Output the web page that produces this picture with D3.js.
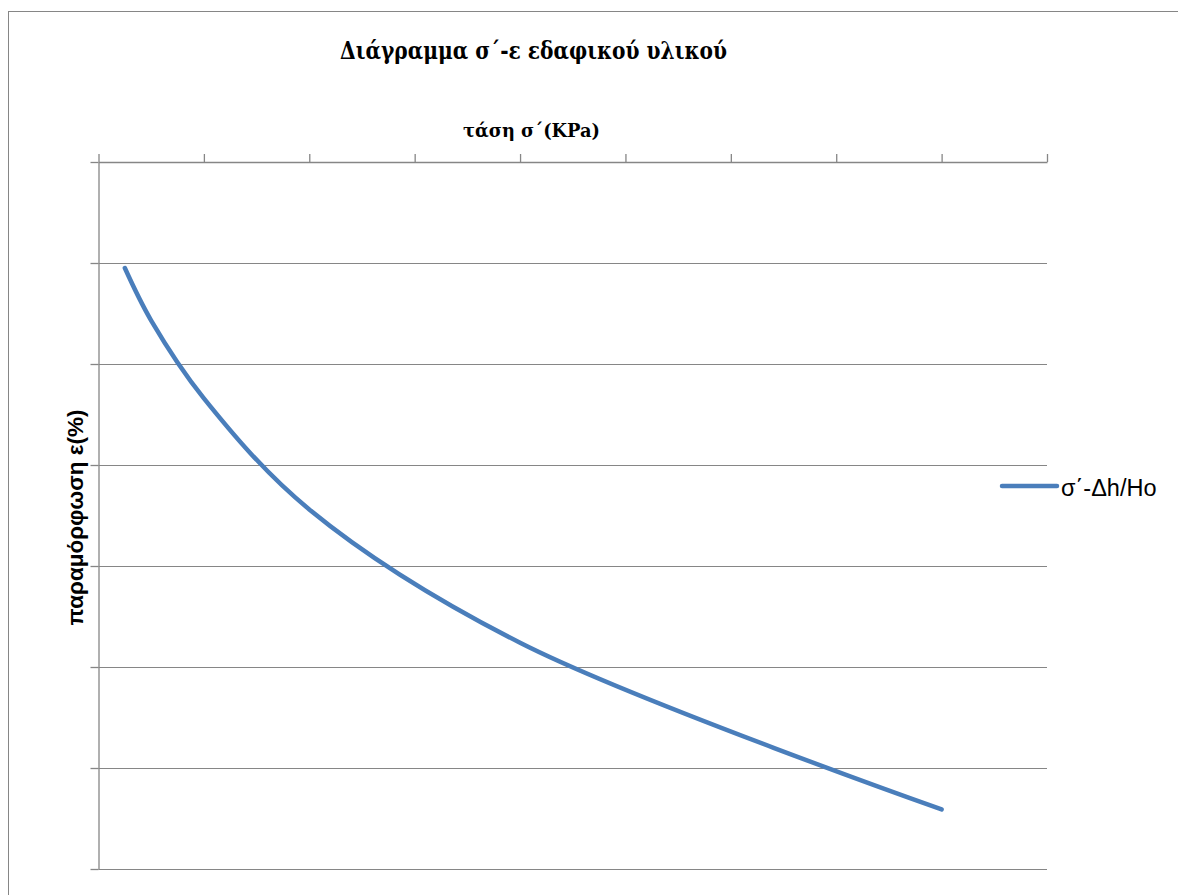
<!DOCTYPE html>
<html>
<head>
<meta charset="utf-8">
<script src="https://cdn.jsdelivr.net/npm/d3@7"></script>
<style>
  html, body { margin: 0; padding: 0; background: #fff; }
  svg { display: block; }
</style>
</head>
<body>
<svg id="chart" width="1178" height="895"></svg>
<script>
// Oedometer-style test: effective stress σ΄ (KPa) vs strain ε (%)
const stress = [25, 50, 100, 200, 400, 800];
const strain = [1.05, 1.57, 2.34, 3.44, 4.76, 6.41];
const xTicks = [0, 100, 200, 300, 400, 500, 600, 700, 800, 900];
const yTicks = [0, 1, 2, 3, 4, 5, 6, 7];
const seriesName = "σ΄-Δh/Ho";
const titleText = "Διάγραμμα σ΄-ε εδαφικού υλικού";
const xTitle = "τάση σ΄(KPa)";
const yTitle = "παραμόρφωση ε(%)";

const svg = d3.select("#chart");
const plot = { left: 98.5, top: 162, right: 1047, bottom: 869 };
const gridColor = "#868686";
const lineColor = "#4A7EBB";
const serif = "'DejaVu Serif', 'Liberation Serif', serif";
const sans = "'Liberation Sans', 'Open Sans', sans-serif";

// chart frame
svg.append("rect")
  .attr("x", 8.5).attr("y", 11.5)
  .attr("width", 1300).attr("height", 1000)
  .attr("fill", "#fff").attr("stroke", gridColor).attr("stroke-width", 1);

const x = d3.scaleLinear().domain([0, 900]).range([plot.left, plot.right]);
const y = d3.scaleLinear().domain([0, 7]).range([plot.top, plot.bottom]); // values grow downward

// horizontal gridlines
svg.append("g")
  .attr("transform", `translate(${plot.left},0)`)
  .call(d3.axisLeft(y).tickValues(yTicks).tickFormat("")
    .tickSizeInner(-(plot.right - plot.left)).tickSizeOuter(0))
  .call(g => g.select(".domain").remove())
  .call(g => g.selectAll("line").attr("stroke", gridColor).attr("stroke-width", 1));

// vertical axis with outside ticks
svg.append("g")
  .attr("transform", `translate(${plot.left},0)`)
  .call(d3.axisLeft(y).tickValues(yTicks).tickFormat("").tickSizeInner(8).tickSizeOuter(0))
  .call(g => g.select(".domain").attr("stroke", gridColor).attr("stroke-width", 1.3))
  .call(g => g.selectAll("line").attr("stroke", gridColor).attr("stroke-width", 1.3));

// horizontal axis along the top
svg.append("g")
  .attr("transform", `translate(0,${plot.top})`)
  .call(d3.axisTop(x).tickValues(xTicks).tickFormat("").tickSizeInner(8).tickSizeOuter(0))
  .call(g => g.select(".domain").attr("stroke", gridColor).attr("stroke-width", 1.3))
  .call(g => g.selectAll("line").attr("stroke", gridColor).attr("stroke-width", 1.3));

// data series, smoothed
const pts = stress.map((s, i) => [s, strain[i]]);
const line = d3.line().x(d => x(d[0])).y(d => y(d[1])).curve(d3.curveCatmullRom.alpha(0.5));
svg.append("path")
  .datum(pts)
  .attr("d", line)
  .attr("fill", "none")
  .attr("stroke", lineColor)
  .attr("stroke-width", 4.5)
  .attr("stroke-linecap", "round")
  .attr("stroke-linejoin", "round");

// titles
svg.append("text")
  .attr("x", 533.5).attr("y", 59)
  .attr("text-anchor", "middle")
  .attr("font-family", serif)
  .attr("font-weight", "bold").attr("font-size", 24)
  .attr("textLength", 387).attr("lengthAdjust", "spacingAndGlyphs")
  .text(titleText);

svg.append("text")
  .attr("x", 531.5).attr("y", 137)
  .attr("text-anchor", "middle")
  .attr("font-family", serif)
  .attr("font-weight", "bold").attr("font-size", 18.5)
  .attr("textLength", 137).attr("lengthAdjust", "spacingAndGlyphs")
  .text(xTitle);

svg.append("text")
  .attr("transform", `translate(83,${(plot.top + plot.bottom) / 2 + 2}) rotate(-90)`)
  .attr("text-anchor", "middle")
  .attr("font-family", sans)
  .attr("font-weight", "bold").attr("font-size", 22.5)
  .text(yTitle);

// legend
const lg = svg.append("g").attr("transform", "translate(1002,486)");
lg.append("line")
  .attr("x1", 0).attr("x2", 55).attr("y1", 0).attr("y2", 0)
  .attr("stroke", lineColor).attr("stroke-width", 4.5).attr("stroke-linecap", "round");
lg.append("text")
  .attr("x", 59).attr("y", 9.5)
  .attr("font-family", sans)
  .attr("font-size", 23.5)
  .text(seriesName);
</script>
</body>
</html>
